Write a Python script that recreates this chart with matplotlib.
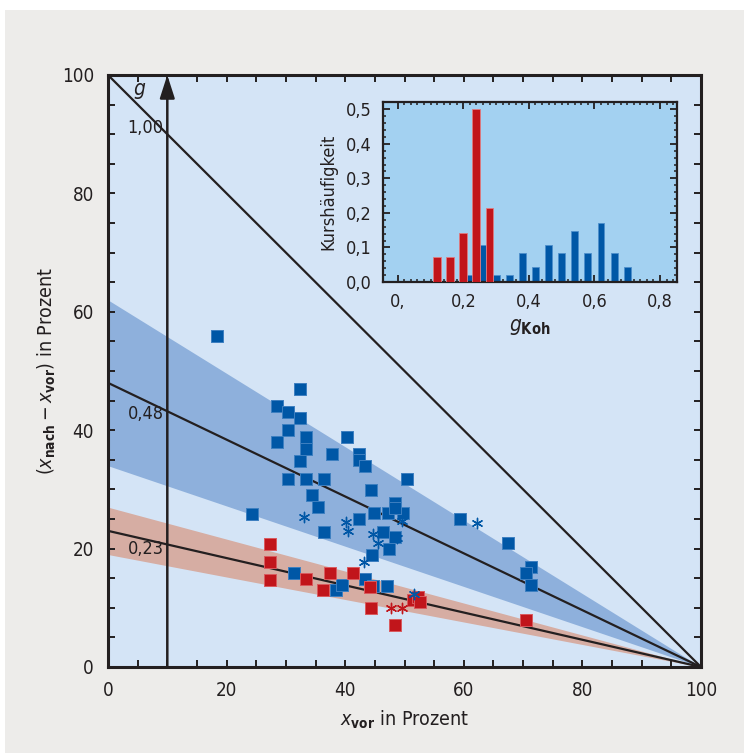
import numpy as np
import matplotlib
matplotlib.use("Agg")
import matplotlib.pyplot as plt
from matplotlib.patches import Rectangle

plt.rcParams['font.family'] = ['DejaVu Sans']
plt.rcParams['font.stretch'] = 'condensed'
plt.rcParams['mathtext.fontset'] = 'custom'
plt.rcParams['mathtext.rm'] = 'DejaVu Sans:stretch=condensed'
plt.rcParams['mathtext.it'] = 'DejaVu Sans:style=italic:stretch=condensed'
plt.rcParams['mathtext.bf'] = 'DejaVu Sans:weight=bold:stretch=condensed'

# --- data -------------------------------------------------------
blue_x = [18.4, 32.4, 28.5, 30.4, 32.4, 30.4, 33.4, 28.5, 33.4, 40.3, 37.8, 42.3,
          42.3, 43.3, 32.4, 30.4, 33.4, 36.4, 50.4, 34.4, 35.4, 44.4, 24.3, 36.4,
          42.3, 44.9, 48.4, 47.2, 49.7, 46.4, 48.4, 47.4, 44.5, 59.4, 67.5, 71.3,
          70.5, 71.3, 31.4, 38.4, 39.5, 43.3, 44.7, 47.0, 48.4]
blue_y = [55.9, 47.0, 44.1, 43.1, 42.1, 40.0, 38.9, 38.0, 36.8, 38.9, 36.0, 36.0,
          35.0, 34.0, 34.8, 31.8, 31.8, 31.8, 31.8, 29.1, 27.0, 29.9, 25.8, 22.8,
          25.0, 26.0, 27.7, 26.0, 26.0, 22.8, 22.0, 19.9, 18.9, 25.0, 20.9, 16.9,
          15.9, 13.9, 15.9, 13.0, 13.9, 14.9, 13.7, 13.7, 26.9]

red_x = [27.3, 27.3, 27.3, 33.4, 36.3, 37.4, 41.3, 44.4, 44.2, 51.4, 52.3, 52.6, 48.4, 70.5]
red_y = [20.8, 17.7, 14.7, 14.9, 13.0, 15.9, 15.9, 10.0, 13.5, 11.3, 11.8, 11.0, 7.1, 7.9]

blue_star_x = [33.1, 40.1, 40.5, 44.7, 45.5, 43.2, 49.6, 62.2, 51.6, 48.7]
blue_star_y = [25.3, 24.5, 23.0, 22.5, 20.9, 17.7, 24.7, 24.3, 12.3, 21.8]
red_star_x = [47.7, 49.6]
red_star_y = [10.0, 10.0]

g_lines = [1.00, 0.48, 0.23]
g_labels = ['1,00', '0,48', '0,23']
g_label_y = [91.0, 42.7, 20.0]
blue_band = (0.34, 0.62)
red_band = (0.19, 0.27)

hist_red_x = [0.12, 0.16, 0.20, 0.24, 0.28]
hist_red_h = [0.071, 0.071, 0.143, 0.500, 0.214]
hist_blue_x = [0.22, 0.26, 0.30, 0.34, 0.38, 0.42, 0.46, 0.50, 0.54, 0.58, 0.62, 0.66, 0.70]
hist_blue_h = [0.021, 0.106, 0.021, 0.021, 0.085, 0.043, 0.106, 0.085, 0.149, 0.085, 0.170, 0.085, 0.043]

# --- colours ----------------------------------------------------
BLUE = '#0057a6'
RED = '#c1151b'
INK = '#231f20'

fig = plt.figure(figsize=(7.44, 7.53), dpi=100, facecolor='white')
fig.patches.append(Rectangle((5 / 744, 0), 1, 1 - 10 / 753, transform=fig.transFigure,
                             facecolor='#edecea', edgecolor='none', zorder=-10))

ax = fig.add_axes([108 / 744, 1 - 667 / 753, (701 - 108) / 744, (667 - 75) / 753])
ax.set_facecolor('#d4e4f6')
ax.set_xlim(0, 100)
ax.set_ylim(0, 100)

xx = np.array([0, 100])
ax.fill_between(xx, blue_band[0] * (100 - xx), blue_band[1] * (100 - xx),
                color='#8eb0dc', lw=0, zorder=1)
ax.fill_between(xx, red_band[0] * (100 - xx), red_band[1] * (100 - xx),
                color='#d6ada3', lw=0, zorder=1)
for g in g_lines:
    ax.plot(xx, g * (100 - xx), color=INK, lw=1.6, zorder=2)
for lab, ly in zip(g_labels, g_label_y):
    ax.text(3.3, ly, lab, fontsize=13, color=INK, ha='left', va='center', zorder=3)
ax.text(5.2, 97.6, 'g', fontsize=15, style='italic', color=INK, ha='center', va='center')

ax.annotate('', xy=(10, 100), xytext=(10, 0),
            arrowprops=dict(arrowstyle='-|>,head_length=1.4,head_width=0.45',
                            color=INK, lw=1.8, shrinkA=0, shrinkB=0), zorder=3)

ax.scatter(blue_x, blue_y, marker='s', s=78, c=BLUE, edgecolors='#3d7fc0',
           linewidths=0.7, zorder=4)
ax.scatter(red_x, red_y, marker='s', s=78, c=RED, edgecolors='#d95a5e',
           linewidths=0.7, zorder=4)
ax.scatter(blue_star_x, blue_star_y, marker=(6, 2, 0), s=55, c=BLUE,
           linewidths=1.0, zorder=5)
ax.scatter(red_star_x, red_star_y, marker=(6, 2, 0), s=55, c=RED,
           linewidths=1.0, zorder=5)

ax.set_xticks(np.arange(0, 101, 20))
ax.set_yticks(np.arange(0, 101, 20))
ax.set_xticks(np.arange(0, 101, 5), minor=True)
ax.set_yticks(np.arange(0, 101, 5), minor=True)
ax.tick_params(which='both', direction='in', length=5, width=1.4, color=INK,
               top=True, right=True, labelsize=13.5, labelcolor=INK, pad=10)
for s in ax.spines.values():
    s.set_linewidth(2.2)
    s.set_color(INK)
ax.set_xlabel(r'$x_{\mathbf{vor}}$ in Prozent', fontsize=14, color=INK, labelpad=6)
ax.set_ylabel(r'$(x_{\mathbf{nach}}-x_{\mathbf{vor}})$ in Prozent', fontsize=14,
              color=INK, labelpad=3)

# --- inset histogram --------------------------------------------
ins = fig.add_axes([383 / 744, 1 - 282 / 753, (677 - 383) / 744, (282 - 102) / 753])
ins.set_facecolor('#a3d1f1')
ins.bar(hist_blue_x, hist_blue_h, width=0.021, color=BLUE, edgecolor='#4d8fcc',
        linewidth=0.6, zorder=2)
ins.bar(hist_red_x, hist_red_h, width=0.024, color=RED, edgecolor='#e07a7e',
        linewidth=0.6, zorder=3)
ins.set_xlim(-0.045, 0.852)
ins.set_ylim(0, 0.521)
ins.set_xticks([0, 0.2, 0.4, 0.6, 0.8])
ins.set_xticklabels(['0,', '0,2', '0,4', '0,6', '0,8'])
ins.set_yticks(np.arange(0, 0.51, 0.1))
ins.set_yticklabels(['0,0', '0,1', '0,2', '0,3', '0,4', '0,5'])
ins.set_xticks(np.arange(0, 0.85, 0.02), minor=True)
ins.set_yticks(np.arange(0, 0.52, 0.02), minor=True)
ins.tick_params(which='major', direction='in', length=5, width=1.3, color=INK,
                top=True, right=True, labelsize=13, labelcolor=INK, pad=8)
ins.tick_params(which='minor', direction='in', length=2.5, width=1.1, color=INK,
                top=True, right=True)
for s in ins.spines.values():
    s.set_linewidth(1.6)
    s.set_color(INK)
ins.set_xlabel(r'$g_{\mathbf{Koh}}$', fontsize=15, color=INK, labelpad=4)
ins.set_ylabel('Kurshäufigkeit', fontsize=13, color=INK, labelpad=6)

fig.savefig('out.png', dpi=100, facecolor=fig.get_facecolor())
